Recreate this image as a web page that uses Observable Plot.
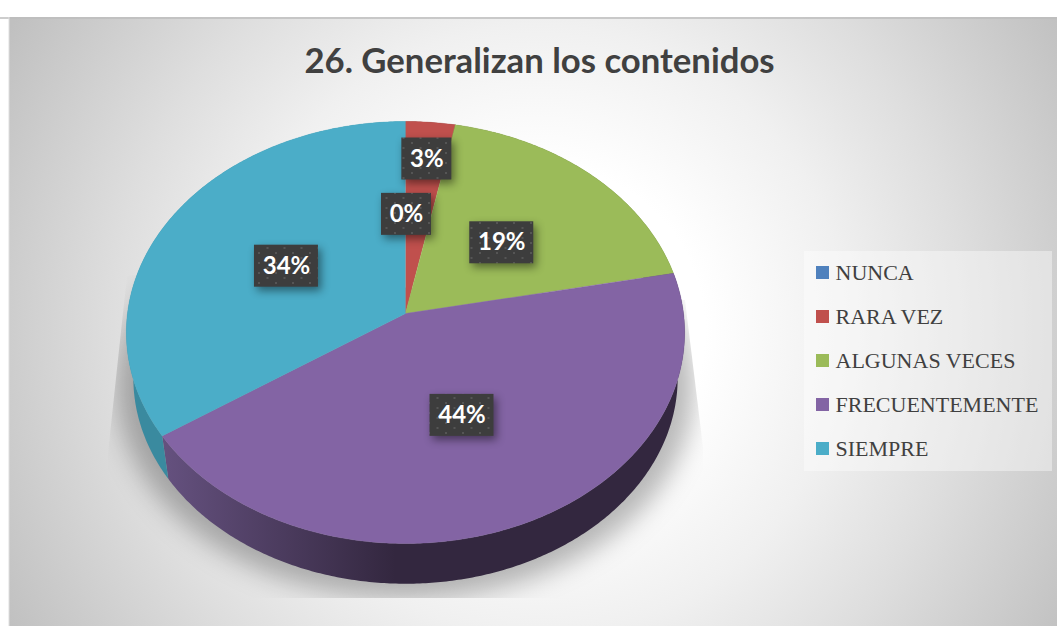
<!DOCTYPE html>
<html>
<head>
<meta charset="utf-8">
<script src="https://cdn.jsdelivr.net/npm/d3@7"></script>
<script src="https://cdn.jsdelivr.net/npm/@observablehq/plot@0.6"></script>
<style>html,body{margin:0;padding:0;background:#fff}svg{display:block}</style>
</head>
<body>
<div id="chart"></div>
<script>
const titleText = "26. Generalizan los contenidos";
const categories = ["NUNCA", "RARA VEZ", "ALGUNAS VECES", "FRECUENTEMENTE", "SIEMPRE"];
const counts = [0, 1, 6, 14, 11];
const colors = ["#4f81bd", "#c0504d", "#9bbb59", "#8364a4", "#4badc8"];
const wallColors = ["#2f4d71", "#73302e", "#5d7035", "url(#wallPurple)", "#3a8a9f"];

const W = 1057, H = 626;
const cx = 405, cy = 313, B = 278, A = 209.3, p = 0.09;   // perspective disc
const wallScale = 0.975, wallCy = 359;
const total = d3.sum(counts);

// a point of the disc: angle clockwise from 12 o'clock, r in 0..1
function disc(a, r = 1) {
  const u = r * Math.sin(a), v = r * Math.cos(a), d = 1 + p * v;
  return {x: cx + B * u / d, y: cy - A * v / d};
}
function lower(pt) {
  return {x: cx + (pt.x - cx) * wallScale, y: wallCy + (pt.y - cy) * wallScale};
}
function rim(a0, a1) {
  const n = Math.max(1, Math.ceil((a1 - a0) / 0.01));
  return d3.range(n + 1).map(i => disc(a0 + (a1 - a0) * i / n));
}

const arcs = d3.pie().sort(null).value(d => d)(counts);
const topFace = arcs.map(s => [{x: cx, y: cy}, ...rim(s.startAngle, s.endAngle)]);
const wallFace = arcs.map(s => {
  const r = rim(s.startAngle, s.endAngle);
  return [...r, ...r.map(lower).reverse()];
});
const shadowOutline = rim(0, 2 * Math.PI).map(lower).map(q => ({
  x: cx + (q.x - cx) * 1.06, y: wallCy + 8 + (q.y - wallCy) * 1.03
}));

// label anchors: thin slices push their label out towards the rim
const labelRadius = c => (c > 0 && c / total < 0.05 ? 0.8 : 0.5);
const labels = arcs.map((s, i) => {
  const q = disc((s.startAngle + s.endAngle) / 2, labelRadius(counts[i]));
  const text = Math.round(counts[i] / total * 100) + "%";
  return {x: q.x + 1, y: q.y + 1, text, half: text.length > 2 ? 32 : 25};
});
const legendRows = categories.map((name, i) => ({name, color: colors[i], y: 272.5 + i * 44}));

const defs = () => {
  const g = document.createElementNS("http://www.w3.org/2000/svg", "defs");
  g.innerHTML = `
    <radialGradient id="bg" gradientUnits="userSpaceOnUse" cx="540" cy="330" r="610">
      <stop offset="0.27" stop-color="#ffffff"/><stop offset="0.5" stop-color="#f0f0f0"/>
      <stop offset="0.7" stop-color="#dedede"/><stop offset="1" stop-color="#c0c0c0"/>
    </radialGradient>
    <linearGradient id="wallPurple" gradientUnits="userSpaceOnUse" x1="162" x2="395" y1="0" y2="0">
      <stop offset="0" stop-color="#65517f"/><stop offset="1" stop-color="#33273f"/>
    </linearGradient>
    <pattern id="dots" patternUnits="userSpaceOnUse" width="17" height="10">
      <rect width="17" height="10" fill="#3d3d3d"/>
      <rect x="3" y="2" width="2" height="2" fill="#555"/>
      <rect x="11.5" y="7" width="2" height="2" fill="#555"/>
    </pattern>
    <clipPath id="shadowClip"><polygon points="127,275 108,453 108,598 703,598 703,447 685,300"/></clipPath>`;
  return g;
};
const clipShadow = (index, scales, vals, dims, ctx, next) => {
  const g = next(index, scales, vals, dims, ctx);
  const wrap = document.createElementNS("http://www.w3.org/2000/svg", "g");
  wrap.setAttribute("clip-path", "url(#shadowClip)");
  wrap.appendChild(g);
  return wrap;
};

const chart = Plot.plot({
  width: W, height: H,
  margin: 0,
  style: {background: "#fff"},
  x: {domain: [0, W], range: [0, W], axis: null},
  y: {domain: [0, H], range: [0, H], axis: null},
  marks: [
    defs,
    Plot.rect([{x1: 9, x2: W, y1: 17, y2: H}], {x1: "x1", x2: "x2", y1: "y1", y2: "y2", fill: "url(#bg)"}),
    Plot.ruleY([17.5], {stroke: "#bdbdbd", strokeWidth: 1.5}),
    Plot.ruleX([8.5], {y1: 17, y2: H, stroke: "#dedede"}),
    Plot.line(shadowOutline, {x: "x", y: "y", fill: "#000", fillOpacity: 0.28, stroke: "none",
      imageFilter: "blur(13px)", render: clipShadow}),
    ...wallFace.map((pts, i) => counts[i] > 0
      ? Plot.line(pts, {x: "x", y: "y", fill: wallColors[i], stroke: "none"}) : null),
    ...topFace.map((pts, i) => counts[i] > 0
      ? Plot.line(pts, {x: "x", y: "y", fill: colors[i], stroke: colors[i], strokeWidth: 0.4}) : null),
    Plot.rect(labels, {
      x1: d => d.x - d.half, x2: d => d.x + d.half,
      y1: d => d.y - 21, y2: d => d.y + 21,
      fill: "url(#dots)", imageFilter: "drop-shadow(3px 4px 4px rgba(0,0,0,0.45))"
    }),
    Plot.text(labels, {x: "x", y: "y", text: "text", fill: "#fff", fontSize: 24, fontWeight: 700,
      fontFamily: "Lato", textAnchor: "middle", lineAnchor: "middle"}),
    Plot.text([titleText], {x: () => 539, y: () => 61, fontSize: 34.7, fontWeight: 700, fontFamily: "Lato",
      fill: "#404040", textAnchor: "middle", lineAnchor: "middle"}),
    Plot.rect([{x1: 804, x2: 1052, y1: 251, y2: 471}], {x1: "x1", x2: "x2", y1: "y1", y2: "y2", fill: "#fff", fillOpacity: 0.4}),
    Plot.rect(legendRows, {x1: () => 816, x2: () => 829, y1: d => d.y - 6.5, y2: d => d.y + 6.5, fill: "color"}),
    Plot.text(legendRows, {x: () => 835, y: "y", text: "name", fontSize: 22, fontFamily: "Liberation Serif",
      fill: "#404040", textAnchor: "start", lineAnchor: "middle"})
  ].filter(Boolean)
});
document.getElementById("chart").appendChild(chart);
</script>
</body>
</html>
